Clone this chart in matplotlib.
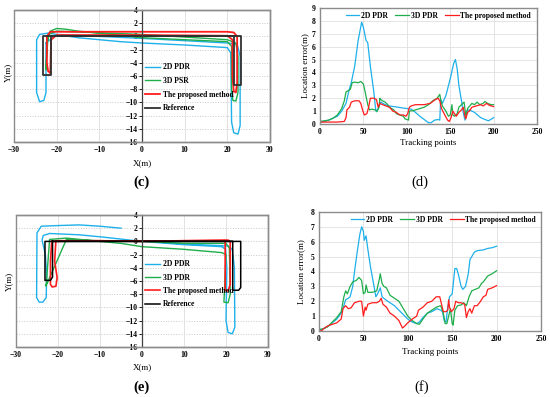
import numpy as np
import matplotlib.pyplot as plt
from matplotlib.patches import Rectangle

plt.rcParams['font.family'] = ['Liberation Serif', 'DejaVu Serif']
plt.rcParams['font.weight'] = 'bold'

BLUE = '#1eb0ea'
GREEN = '#1fae4c'
RED = '#ff1c1c'

# ---------------- (c) trajectories ----------------
c_ref_x = [-21.4, -21.4, -23.1, -23.1, 23.3, 23.3, 21.5, 21.5, -21.4]
c_ref_y = [0, -5.9, -5.9, 0, 0, -7.4, -7.4, 0, 0]

c_pdr2_x = [-22.5, -22.5, -23.0, -24.0, -24.7, -24.7, -24.0, -22.0, -15, -5, 0, 10, 20, 20.8,
            21.0, 21.5, 22.5, 23.0, 23.0, 22.3, 20, 0, -20, -22.5]
c_pdr2_y = [-1, -8.5, -9.7, -9.9, -8.5, -0.5, 0.3, 0.5, -0.2, -0.8, -1.0, -1.3, -1.7, -2.5,
            -13, -14.6, -14.8, -13.5, -3, -1.2, -1.0, -0.3, 0.3, -1]

c_pdr3_x = [-22.5, -22.3, -21.5, -20, -18, -15, -10, 0, 10, 20, 21.0, 21.0, 21.3, 22.0, 22.5,
            22.5, 22.0, 20, 0, -20, -22, -22.5]
c_pdr3_y = [-5, -1, 0.8, 1.2, 1.1, 0.8, 0.5, -0.2, -0.5, -0.8, -1.5, -8, -9.7, -9.8, -8.5,
            -3, -1, -0.5, 0.3, 0.8, 0.3, -5]

c_prop_x = [-21.5, -22.0, -22.3, -22.3, -21.5, -15, 0, 20, 21.5, 22.3, 22.3, 22.0, 21.5, 21.2,
            21.2, 20, 0, -20, -21.3, -21.5]
c_prop_y = [-5.5, -5.3, -4, 0, 0.7, 0.7, 0.7, 0.7, 0.6, 0, -7, -8.5, -8.3, -6,
            -0.5, 0.1, 0.2, 0.2, -0.5, -5.5]

# ---------------- (e) trajectories ----------------
e_ref_x = [-21.3, -21.3, -21.8, -23.1, -23.1, 23.5, 23.5, 23.0, 21.6, 21.6, -21.3]
e_ref_y = [0, -5.4, -5.9, -5.9, 0, 0, -7.0, -7.4, -7.4, 0, 0]

e_pdr2_x = [-5, -10, -15, -20, -24, -25.0, -25.1, -24.5, -23.6, -22.8, -22.7, -23.0, -23.8,
            -23.5, -22, -15, -10, 0, 10, 19, 19.9, 20.2, 20.0, 20.5, 21.5, 22.1, 22.0, 21.5,
            20.5, 10, 0]
e_pdr2_y = [2.0, 2.3, 2.5, 2.4, 2.3, 1.3, -8.5, -9.2, -9.2, -8.5, -5, -2, 0.2,
            0.9, 1.2, 1.0, 0.7, 0.0, -0.5, -0.8, -1.2, -4, -12, -13.8, -14.0, -13, -4, -1.2,
            -0.7, -0.4, 0.1]

e_pdr3_x = [-22.0, -22.6, -23.0, -22.8, -22.5, -22.0, -18, -10, -5, 0, 10, 19, 20.0, 19.6, 19.5,
            20.5, 21.0, 20.8, 20.0, 10, 0, -10, -18, -22.0]
e_pdr3_y = [-5.5, -6.4, -6.6, -6.8, -4, 0.3, 0.5, 0.0, -0.3, -0.8, -1.2, -1.7, -2.0, -8, -9.2,
            -9.3, -8, -1, -0.3, -0.3, 0.0, 0.1, 0.3, -5.5]

e_prop_x = [-21.5, -21.8, -21.8, -21.4, -20.5, -20.2, -20.8, -20.5, -10, 0, 10, 19.8, 19.8,
            20.5, 21.0, 21.0, 20.5, 10, 0, -10, -21.5]
e_prop_y = [0, -3, -6.5, -6.9, -6.8, -5.5, -3, 0.1, 0.1, 0.05, 0.1, 0.1, -7.4,
            -7.5, -6.5, 0, 0.2, 0.1, 0.0, 0.1, 0]

# ---------------- (d) location error ----------------
d_pdr2_t = [0, 5, 10, 20, 25, 30, 33, 36, 40, 44, 48, 50, 53, 55, 58, 62, 64, 65, 67, 70, 75, 80,
            90, 100, 105, 110, 115, 120, 125, 128, 132, 136, 138, 139, 141, 145, 150, 154, 156,
            158, 160, 163, 165, 167, 169, 172, 178, 185, 190, 194, 198, 200]
d_pdr2_e = [0.15, 0.2, 0.3, 0.6, 1.0, 1.6, 2.5, 3.2, 4.5, 6.5, 7.9, 7.5, 6.5, 6.3, 4.5, 2.5, 1.2,
            0.95, 1.2, 1.7, 1.5, 1.4, 1.3, 1.2, 1.15, 0.9, 0.6, 0.35, 0.1, 0.1, 0.3, 0.35, 0.3,
            1.9, 1.6, 2.2, 3.5, 4.7, 5.0, 4.3, 3.0, 1.8, 0.9, 0.3, 1.0, 1.1, 0.9, 0.5, 0.35,
            0.25, 0.4, 0.5]
d_pdr3_t = [0, 10, 15, 20, 25, 28, 30, 33, 35, 37, 40, 44, 47, 50, 52, 55, 57, 60, 63, 66, 68,
            69, 70, 72, 75, 78, 80, 85, 88, 92, 96, 98, 102, 103, 108, 115, 120, 125, 130, 135,
            138, 139, 141, 145, 148, 150, 152, 153, 155, 158, 160, 163, 166, 168, 170, 175, 178,
            181, 184, 188, 190, 193, 197, 200]
d_pdr3_e = [0.2, 0.3, 0.45, 0.7, 1.2, 1.8, 2.5, 2.6, 2.7, 3.2, 3.25, 3.2, 3.3, 3.1, 2.5, 1.5, 1.1,
            1.15, 1.1, 1.0, 1.3, 2.0, 1.9, 1.8, 1.7, 1.5, 1.3, 1.1, 0.8, 0.7, 0.6, 0.4, 0.3, 1.0,
            1.05, 1.2, 1.3, 1.5, 1.8, 2.0, 2.3, 1.9, 1.4, 1.0, 0.6, 0.7, 1.5, 0.7, 0.6, 0.8,
            1.3, 1.5, 1.7, 0.6, 1.2, 1.6, 1.5, 1.7, 1.5, 1.6, 1.75, 1.6, 1.5, 1.5]
d_prop_t = [0, 10, 20, 28, 30, 31, 34, 36, 40, 45, 47, 49, 51, 54, 56, 58, 62, 65, 67, 69, 72,
            80, 84, 88, 92, 96, 99, 101, 103, 105, 110, 120, 127, 133, 136, 138, 140, 143, 147,
            149, 151, 153, 155, 157, 160, 163, 165, 167, 168, 170, 172, 175, 180, 185, 188, 192,
            195, 200]
d_prop_e = [0.15, 0.15, 0.15, 0.2, 0.5, 1.1, 1.3, 1.7, 1.8, 1.8, 1.6, 1.1, 0.7, 0.8, 1.3, 2.0,
            2.0, 1.9, 1.3, 1.6, 1.5, 1.3, 1.0, 0.9, 0.7, 0.7, 0.6, 0.8, 1.3, 1.4, 1.5, 1.5, 1.6,
            1.9, 2.0, 1.8, 1.2, 0.8, 0.3, 0.2, 0.5, 1.0, 0.8, 0.6, 0.9, 1.1, 1.3, 0.6, 0.4, 0.9,
            1.0, 1.3, 1.4, 1.5, 1.4, 1.6, 1.45, 1.35]

# ---------------- (f) location error ----------------
f_pdr2_t = [0, 3, 10, 20, 25, 28, 30, 33, 35, 38, 40, 43, 46, 48, 50, 51, 53, 55, 58, 62, 64,
            66, 69, 71, 75, 80, 85, 90, 95, 100, 105, 110, 113, 117, 122, 127, 133, 137, 139,
            141, 143, 145, 147, 150, 153, 155, 157, 160, 162, 165, 168, 170, 175, 178, 185, 190,
            195, 200]
f_pdr2_e = [0.1, 0.1, 0.3, 0.8, 1.2, 1.7, 2.1, 2.2, 2.3, 3.0, 4.0, 5.3, 6.5, 7.0, 6.7, 6.1, 6.4,
            5.5, 4.3, 3.0, 2.3, 2.5, 2.9, 2.3, 2.1, 1.9, 1.7, 1.4, 1.1, 0.8, 0.6, 0.5, 0.6, 0.9,
            1.2, 1.3, 1.5, 1.4, 1.3, 0.7, 0.6, 1.6, 2.3, 2.5, 4.2, 4.2, 3.8, 3.0, 2.8, 3.0, 3.8,
            4.8, 5.3, 5.4, 5.45, 5.55, 5.6, 5.7]
f_pdr3_t = [0, 5, 10, 15, 20, 25, 28, 30, 32, 35, 38, 42, 45, 48, 50, 52, 53, 55, 60, 65, 68,
            69, 71, 73, 76, 80, 85, 90, 95, 100, 105, 110, 113, 117, 122, 127, 132, 137, 140,
            142, 144, 146, 148, 150, 151, 153, 156, 160, 163, 166, 169, 172, 176, 180, 183, 185,
            190, 195, 200]
f_pdr3_e = [0.1, 0.15, 0.3, 0.6, 0.9, 1.3, 2.3, 2.7, 2.5, 3.0, 3.3, 3.4, 3.6, 3.4, 2.5, 2.6,
            3.1, 2.6, 2.6, 2.7, 3.5, 3.85, 3.2, 3.0, 2.9, 2.4, 2.2, 2.0, 1.5, 1.0, 0.7, 0.5,
            0.45, 0.8, 1.2, 1.4, 1.6, 1.7, 1.2, 0.5, 0.5, 1.0, 1.5, 0.5, 0.4, 1.4, 1.7, 1.75,
            1.9, 1.7, 2.3, 2.7, 2.8, 2.9, 3.2, 3.3, 3.7, 3.85, 4.05]
f_prop_t = [0, 3, 5, 10, 15, 20, 25, 27, 30, 33, 36, 40, 45, 48, 50, 52, 53, 55, 60, 65, 68, 70,
            72, 76, 80, 85, 90, 94, 96, 100, 105, 110, 112, 117, 122, 127, 132, 136, 138, 140,
            143, 145, 146, 147, 149, 152, 154, 157, 160, 164, 166, 168, 170, 172, 175, 178, 182,
            185, 188, 190, 195, 200]
f_prop_e = [0.05, 0.0, 0.15, 0.35, 0.45, 0.55, 0.8, 1.5, 1.7, 1.5, 1.55, 1.9, 2.0, 2.0, 1.0,
            1.6, 1.4, 1.8, 1.9, 1.9, 2.0, 2.2, 1.8, 1.6, 1.2, 1.0, 0.7, 0.2, 0.3, 0.55, 0.8,
            1.0, 1.4, 1.6, 1.9, 2.0, 2.3, 2.3, 1.8, 1.3, 1.3, 1.4, 2.1, 1.6, 1.3, 1.5, 2.0, 1.9,
            1.9, 1.8, 0.9, 1.3, 1.5, 1.2, 1.7, 1.7, 2.0, 2.3, 2.4, 2.8, 2.9, 3.05]

W, H = 550, 397
fig = plt.figure(figsize=(W / 100, H / 100), dpi=100)


def px_axes(left, top, right, bottom):
    return fig.add_axes([left / W, 1 - bottom / H, (right - left) / W, (bottom - top) / H])


def traj_axes(left, top, right, bottom):
    ax = px_axes(left, top, right, bottom)
    ax.set_xlim(-30, 30)
    ax.set_ylim(-16, 4)
    ax.set_xticks(range(-30, 31, 10))
    ax.set_yticks(range(-16, 5, 2))
    for yy in range(-14, 4, 2):
        ax.axhline(yy, color='#c8c8c8', ls=':', lw=0.7, zorder=0)
    for xx in (-20, -10, 10, 20):
        ax.axvline(xx, color='#e2e2e2', lw=0.7, zorder=0)
    ax.spines['left'].set_position(('data', 0))
    ax.spines['left'].set_color('#404040')
    ax.spines['left'].set_linewidth(0.9)
    for s in ('top', 'right', 'bottom'):
        ax.spines[s].set_color('#8c8c8c')
        ax.spines[s].set_linewidth(1.0)
    ax.add_patch(Rectangle((0, 0), 1, 1, transform=ax.transAxes, fill=False,
                           ec='#8c8c8c', lw=1.0, clip_on=False, zorder=5))
    ax.tick_params(labelsize=5.5, length=2, width=0.6, pad=1)
    ax.tick_params(axis='x', length=0, pad=3)
    ax.set_ylabel('Y(m)', fontsize=6.5)
    ax.set_xlabel('X(m)', fontsize=6.5)
    return ax


def err_axes(left, top, right, bottom, ymax):
    ax = px_axes(left, top, right, bottom)
    ax.set_xlim(0, 250)
    ax.set_ylim(0, ymax)
    ax.set_xticks(range(0, 251, 50))
    ax.set_yticks(range(0, ymax + 1))
    ax.grid(True, color='#e0e0e0', lw=0.6)
    ax.set_axisbelow(True)
    for s in ax.spines.values():
        s.set_color('#8c8c8c')
        s.set_linewidth(1.0)
    ax.tick_params(labelsize=5.5, length=0, pad=3)
    ax.set_xlabel('Tracking points', fontsize=6.5)
    ax.set_ylabel('Location error(m)', fontsize=6.5)
    return ax


# (c)
ax = traj_axes(14, 10, 270, 142)
ax.plot(c_pdr2_x, c_pdr2_y, color=BLUE, lw=1.0, label='2D PDR')
ax.plot(c_pdr3_x, c_pdr3_y, color=GREEN, lw=1.0, label='3D PSR')
ax.plot(c_prop_x, c_prop_y, color=RED, lw=1.3, label='The proposed method')
ax.plot(c_ref_x, c_ref_y, color='#303030', lw=1.3, label='Reference')
ax.legend(loc='upper left', bbox_to_anchor=(0.5, 0.62), frameon=False, fontsize=5.5,
          handlelength=2.0, handletextpad=0.3, labelspacing=0.75, borderaxespad=0)
ax.yaxis.set_label_coords((12 - 14) / 256, 0.53)
ax.xaxis.set_label_coords(0.5, -0.13)
fig.text(142 / W, 1 - 182 / H, '(c)', ha='center', va='center', fontsize=10.5)

# (d)
ax = err_axes(320, 8, 537, 124, 9)
ax.plot(d_pdr2_t, d_pdr2_e, color=BLUE, lw=0.9, label='2D PDR')
ax.plot(d_pdr3_t, d_pdr3_e, color=GREEN, lw=0.9, label='3D PDR')
ax.plot(d_prop_t, d_prop_e, color=RED, lw=0.9, label='The proposed method')
ax.legend(loc='upper center', bbox_to_anchor=(0.545, 1.0), ncol=3, frameon=False, fontsize=5.5,
          handlelength=1.8, handletextpad=0.2, columnspacing=1.0, borderaxespad=0.1)
ax.yaxis.set_label_coords(-0.05, 0.5)
ax.xaxis.set_label_coords(0.5, -0.13)
fig.text(420 / W, 1 - 182 / H, '(d)', ha='center', va='center', fontsize=10.5, fontweight='normal')

# (e)
ax = traj_axes(16, 215, 268, 347)
ax.plot(e_pdr2_x, e_pdr2_y, color=BLUE, lw=1.0, label='2D PDR')
ax.plot(e_pdr3_x, e_pdr3_y, color=GREEN, lw=1.0, label='3D PDR')
ax.plot(e_prop_x, e_prop_y, color=RED, lw=1.2, label='The proposed method')
ax.plot(e_ref_x, e_ref_y, color='black', lw=1.1, label='Reference')
ax.legend(loc='upper left', bbox_to_anchor=(0.5, 0.68), frameon=False, fontsize=5.5,
          handlelength=2.0, handletextpad=0.3, labelspacing=0.7, borderaxespad=0)
ax.yaxis.set_label_coords((13 - 16) / 252, 0.5)
ax.xaxis.set_label_coords(0.5, -0.12)
fig.text(142 / W, 1 - 387 / H, '(e)', ha='center', va='center', fontsize=10.5)

# (f)
ax = err_axes(319, 212, 541, 331, 8)
ax.plot(f_pdr2_t, f_pdr2_e, color=BLUE, lw=0.9, label='2D PDR')
ax.plot(f_pdr3_t, f_pdr3_e, color=GREEN, lw=0.9, label='3D PDR')
ax.plot(f_prop_t, f_prop_e, color=RED, lw=0.9, label='The proposed method')
ax.legend(loc='upper center', bbox_to_anchor=(0.56, 1.0), ncol=3, frameon=False, fontsize=5.5,
          handlelength=1.8, handletextpad=0.2, columnspacing=1.0, borderaxespad=0.1)
ax.yaxis.set_label_coords(-0.06, 0.5)
ax.xaxis.set_label_coords(0.5, -0.14)
fig.text(422 / W, 1 - 387 / H, '(f)', ha='center', va='center', fontsize=10.5, fontweight='normal')

fig.savefig('out.png', dpi=100)
